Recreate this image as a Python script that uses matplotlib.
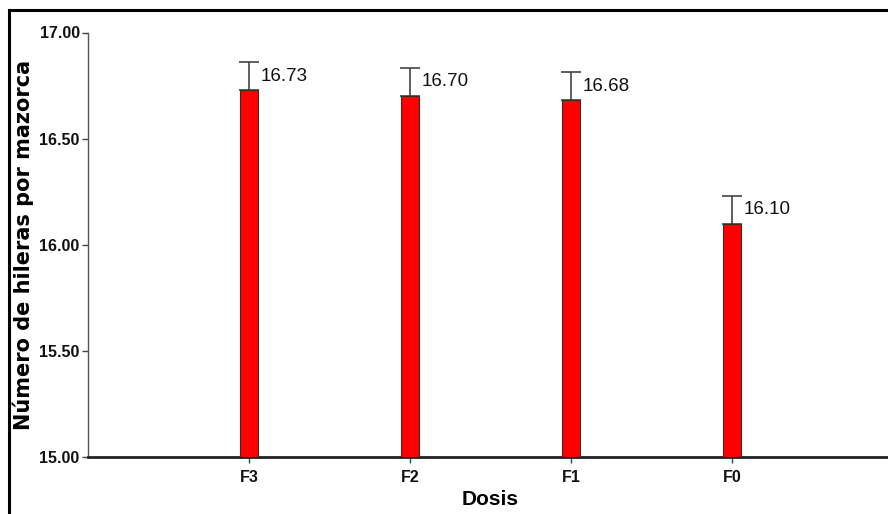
import matplotlib
matplotlib.use('Agg')
import matplotlib.pyplot as plt
from matplotlib.lines import Line2D

# data
dosis = ['F3', 'F2', 'F1', 'F0']
hileras = [16.73, 16.70, 16.68, 16.10]
error = [0.13, 0.135, 0.135, 0.13]
y_ticks = [15.00, 15.50, 16.00, 16.50, 17.00]

W, H = 888, 514
fig = plt.figure(figsize=(W / 100, H / 100), dpi=100)
fig.patch.set_facecolor('white')

# axes placed in pixels; x runs 0..5 and is cut off by the right edge
left, right, top, bottom = 88, 893, 32.5, 457
ax = fig.add_axes([left / W, 1 - bottom / H, (right - left) / W, (bottom - top) / H])

x = list(range(1, len(dosis) + 1))
ax.bar(x, [v - 15 for v in hileras], bottom=15, width=0.11,
       color='#ff0000', edgecolor='#3a2a2a', linewidth=0.8, zorder=3)
ax.errorbar(x, hileras, yerr=[[0] * len(error), error], fmt='none',
            ecolor='#444444', elinewidth=1.2, capsize=7, capthick=1.2, zorder=2)

for xi, v, e in zip(x, hileras, error):
    ax.text(xi + 0.072, v + e / 2, f'{v:.2f}', ha='left', va='center',
            fontsize=13.5, family='Liberation Sans', color='#111111')

ax.set_xlim(0, 5)
ax.set_ylim(15, 17)
ax.set_xticks(x)
ax.set_xticklabels(dosis)
ax.set_yticks(y_ticks)
ax.set_yticklabels([f'{t:.2f}' for t in y_ticks])

for lab in ax.get_xticklabels() + ax.get_yticklabels():
    lab.set_fontfamily('Liberation Sans')
    lab.set_fontweight('bold')
    lab.set_fontsize(11.5)
    lab.set_color('#111111')

ax.tick_params(axis='y', length=4, width=1, color='#444444', pad=2)
ax.tick_params(axis='x', length=4, width=1, color='#444444', pad=5)

for s in ['top', 'right']:
    ax.spines[s].set_visible(False)
ax.spines['left'].set_color('#555555')
ax.spines['left'].set_linewidth(1)
ax.spines['bottom'].set_color('#222222')
ax.spines['bottom'].set_linewidth(2)

ax.set_xlabel('Dosis', fontsize=15, fontweight='bold', family='Liberation Sans',
              labelpad=4)
ax.set_ylabel('Número de hileras por mazorca', fontsize=15, fontweight='bold',
              family='DejaVu Sans', va='center')
ax.yaxis.set_label_coords((23 - left) / (right - left), 0.50)

# frame around the figure (only top and left visible in the crop)
bx, by = 8.5 / W, 1 - 9.8 / H
fig.add_artist(Line2D([bx, bx], [0, by], transform=fig.transFigure,
                      color='black', linewidth=2.2))
fig.add_artist(Line2D([bx, 1], [by, by], transform=fig.transFigure,
                      color='black', linewidth=2.2))

fig.savefig('out.png', dpi=100)
